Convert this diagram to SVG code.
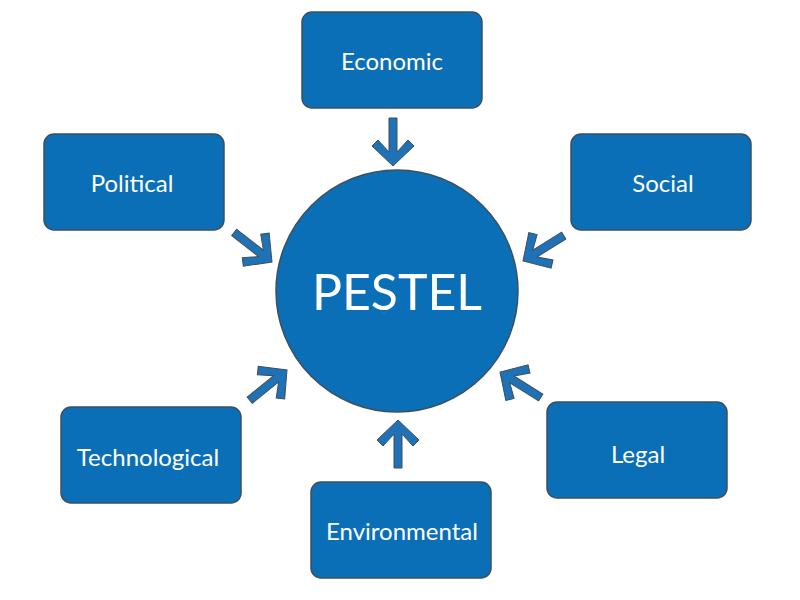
<svg xmlns="http://www.w3.org/2000/svg" width="800" height="600" viewBox="0 0 800 600">
<style>
.b{fill:#0b6fb8;stroke:#3d4f5f;stroke-width:1.5}
.t{fill:#fff;font-family:Lato,"Open Sans",sans-serif;font-size:24px;text-anchor:middle;dominant-baseline:central}
.a{fill:#1f72b5;stroke:#3d4f5f;stroke-width:1}
</style>
<defs><path id="ar" d="M-48,-4 L-14,-4 L-26,-15 L-20,-21 L0,0 L-20,21 L-26,15 L-14,4 L-48,4 Z"/></defs>
<rect width="800" height="600" fill="#fff"/>
<g id="connectors">
<use href="#ar" class="a" transform="translate(393,166) rotate(90)"/>
<use href="#ar" class="a" transform="translate(272,262) rotate(38)"/>
<use href="#ar" class="a" transform="translate(523,261) rotate(148)"/>
<use href="#ar" class="a" transform="translate(287,370) rotate(-39)"/>
<use href="#ar" class="a" transform="translate(398,420) rotate(-90)"/>
<use href="#ar" class="a" transform="translate(500,372) rotate(212)"/>
</g>
<g id="pestel"><circle class="b" cx="397" cy="291" r="121"/><text class="t" x="397" y="291" style="font-size:50px">PESTEL</text></g>
<g id="economic"><rect class="b" x="302" y="12" width="180" height="96" rx="10"/><text class="t" x="392" y="60">Economic</text></g>
<g id="political"><rect class="b" x="44" y="134" width="180" height="96" rx="10"/><text class="t" x="132" y="182">Political</text></g>
<g id="social"><rect class="b" x="571" y="134" width="180" height="96" rx="10"/><text class="t" x="663" y="182">Social</text></g>
<g id="technological"><rect class="b" x="61" y="407" width="180" height="96" rx="10"/><text class="t" x="148" y="456">Technological</text></g>
<g id="environmental"><rect class="b" x="311" y="482" width="180" height="96" rx="10"/><text class="t" x="402" y="530">Environmental</text></g>
<g id="legal"><rect class="b" x="547" y="402" width="180" height="96" rx="10"/><text class="t" x="638" y="453">Legal</text></g>
</svg>
